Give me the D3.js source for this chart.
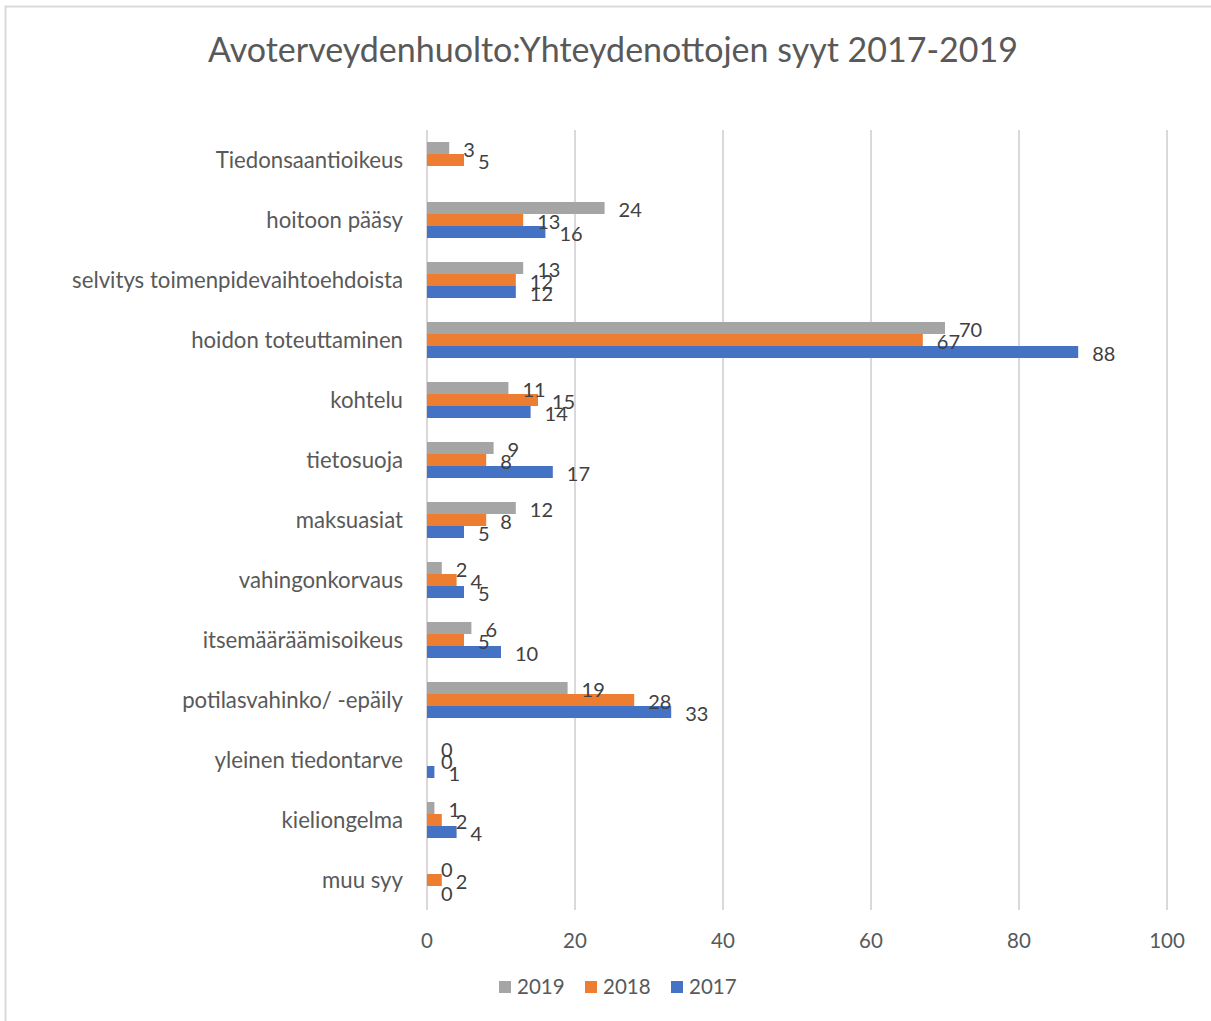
<!DOCTYPE html>
<html><head><meta charset="utf-8">
<script src="https://cdn.jsdelivr.net/npm/d3@7"></script>
<style>body{margin:0;background:#fff;} svg{display:block;} text{font-family:Lato, "Open Sans", sans-serif;}</style>
</head><body>
<svg id="c" width="1211" height="1021"></svg>
<script>
const categories = ["Tiedonsaantioikeus","hoitoon pääsy","selvitys toimenpidevaihtoehdoista","hoidon toteuttaminen","kohtelu","tietosuoja","maksuasiat","vahingonkorvaus","itsemääräämisoikeus","potilasvahinko/ -epäily","yleinen tiedontarve","kieliongelma","muu syy"];
const seriesNames = ["2019","2018","2017"];
const values2019 = [3,24,13,70,11,9,12,2,6,19,0,1,0];
const values2018 = [5,13,12,67,15,8,8,4,5,28,0,2,2];
const values2017 = [null,16,12,88,14,17,5,5,10,33,1,4,0];
const xTicks = [0,20,40,60,80,100];
const colors = {"2019":"#a5a5a5","2018":"#ed7d31","2017":"#4472c4"};
const seriesValues = {"2019":values2019,"2018":values2018,"2017":values2017};

const svg = d3.select("#c");
// frame
svg.append("rect").attr("x",5.5).attr("y",6.5).attr("width",1220).attr("height",1030)
  .attr("fill","none").attr("stroke","#d9d9d9").attr("stroke-width",2);

const x = d3.scaleLinear().domain([0,100]).range([427,1167]);
const y = d3.scaleBand().domain(categories).range([130,910]).paddingInner(0).paddingOuter(0);
const inner = d3.scaleBand().domain(seriesNames).range([0,y.bandwidth()]).paddingOuter(1);

// title
svg.append("text").attr("x",613).attr("y",50).attr("dy","0.35em").attr("text-anchor","middle")
  .attr("fill","#595959").style("font-size","34px").text("Avoterveydenhuolto:Yhteydenottojen syyt 2017-2019");

// gridlines
svg.append("g").selectAll("line").data(xTicks).join("line")
  .attr("x1",d=>x(d)).attr("x2",d=>x(d)).attr("y1",130).attr("y2",910)
  .attr("stroke","#d9d9d9").attr("stroke-width",2);

// x tick labels
svg.append("g").selectAll("text").data(xTicks).join("text")
  .attr("x",d=>x(d)).attr("y",941).attr("dy","0.35em").attr("text-anchor","middle")
  .attr("fill","#595959").style("font-size","20.5px").text(d=>d);

// category labels
svg.append("g").selectAll("text").data(categories).join("text")
  .attr("x",403).attr("y",d=>y(d)+y.bandwidth()/2).attr("dy","0.35em").attr("text-anchor","end")
  .attr("fill","#595959").style("font-size","22.2px").text(d=>d);

// bars
const bars = [];
seriesNames.forEach(s=>{
  categories.forEach((c,i)=>{
    const v = seriesValues[s][i];
    if(v!==null) bars.push({s,c,v});
  });
});
svg.append("g").selectAll("rect").data(bars).join("rect")
  .attr("x",x(0)).attr("y",d=>y(d.c)+inner(d.s))
  .attr("width",d=>x(d.v)-x(0)).attr("height",inner.bandwidth())
  .attr("fill",d=>colors[d.s]);

// data labels
svg.append("g").selectAll("text").data(bars).join("text")
  .attr("x",d=>x(d.v)+14).attr("y",d=>y(d.c)+inner(d.s)+inner.bandwidth()/2+2).attr("dy","0.35em")
  .attr("fill","#404040").style("font-size","20px").text(d=>d.v);

// legend
const legX = [499,585,671];
const lg = svg.append("g").selectAll("g").data(seriesNames).join("g")
  .attr("transform",(d,i)=>`translate(${legX[i]},987)`);
lg.append("rect").attr("x",0).attr("y",-6).attr("width",12).attr("height",12).attr("fill",d=>colors[d]);
lg.append("text").attr("x",18).attr("y",0).attr("dy","0.35em").attr("fill","#595959").style("font-size","20.5px").text(d=>d);
</script>
</body></html>
